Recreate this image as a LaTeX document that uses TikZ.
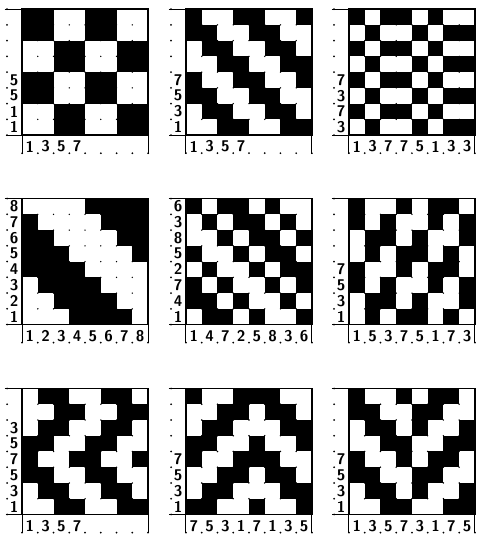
\documentclass[tikz,border=0pt]{standalone}
\usepackage{tikz}

% Một hình dệt: #1 tên, #2 x, #3 y, #4 các hàng ô, #5 nhãn dưới, #6 nhãn trái
\newcommand{\hinhdet}[6]{%
  \begin{scope}[shift={(#2,#3)}]
    % Chấm lưới
    \foreach \i in {1,...,7}
      \foreach \j in {1,...,7}
        \fill (\i,\j) circle (0.7pt);
    % Ô đen
    \foreach \row [count=\r] in {#4}
      \foreach \v [count=\c] in \row
        {\ifnum\v=1 \fill (\c-1,8-\r) rectangle ++(1,1);\fi}
    % Khung và các đường kẻ
    \draw[vien] (0,0) rectangle (8,8);
    \draw[ke] (-1.1,8) -- (0,8);
    \draw[ke] (-1.05,0) -- (0,0);
    \draw[ke] (0,0) -- (0,-1.2);
    \draw[ke] (8,0) -- (8,-1.2);
    % Chấm ở hàng và cột nhãn
    \foreach \k in {0,...,8} {
      \fill (\k,-1.15) circle (0.9pt);
      \fill (-0.95,\k) circle (0.9pt);
    }
    % Nhãn dưới
    \foreach \t [count=\c] in {#5}
      \node[so] (#1d\c) at (\c-0.5,-0.72) {\t};
    % Nhãn trái
    \foreach \t [count=\r] in {#6}
      \node[so] (#1t\r) at (-0.5,8.5-\r) {\t};
  \end{scope}}

\begin{document}
\begin{tikzpicture}[x=0.5cm, y=0.5cm,
    vien/.style={line width=1.3pt},
    ke/.style={line width=0.9pt},
    so/.style={font=\sffamily\bfseries\fontsize{14}{14}\selectfont, inner sep=0pt}]
    \useasboundingbox (0,0) rectangle (30.35,34.29);

    % Hàng trên
    \hinhdet{a}{1.40}{25.71}
      {{1,1,0,0,1,1,0,0},{1,1,0,0,1,1,0,0},{0,0,1,1,0,0,1,1},{0,0,1,1,0,0,1,1},
       {1,1,0,0,1,1,0,0},{1,1,0,0,1,1,0,0},{0,0,1,1,0,0,1,1},{0,0,1,1,0,0,1,1}}
      {1,3,5,7,{},{},{},{}}{{},{},{},{},5,5,1,1}
    \hinhdet{b}{11.81}{25.71}
      {{1,0,0,1,1,0,0,1},{1,1,0,0,1,1,0,0},{0,1,1,0,0,1,1,0},{0,0,1,1,0,0,1,1},
       {1,0,0,1,1,0,0,1},{1,1,0,0,1,1,0,0},{0,1,1,0,0,1,1,0},{0,0,1,1,0,0,1,1}}
      {1,3,5,7,{},{},{},{}}{{},{},{},{},7,5,3,1}
    \hinhdet{c}{22.16}{25.71}
      {{1,0,1,1,0,1,0,0},{0,1,0,0,1,0,1,1},{1,0,1,1,0,1,0,0},{0,1,0,0,1,0,1,1},
       {1,0,1,1,0,1,0,0},{0,1,0,0,1,0,1,1},{1,0,1,1,0,1,0,0},{0,1,0,0,1,0,1,1}}
      {1,3,7,7,5,1,3,3}{{},{},{},{},7,3,7,3}

    % Hàng giữa
    \hinhdet{d}{1.40}{13.68}
      {{0,0,0,0,1,1,1,1},{1,0,0,0,0,1,1,1},{1,1,0,0,0,0,1,1},{1,1,1,0,0,0,0,1},
       {1,1,1,1,0,0,0,0},{0,1,1,1,1,0,0,0},{0,0,1,1,1,1,0,0},{0,0,0,1,1,1,1,0}}
      {1,2,3,4,5,6,7,8}{8,7,6,5,4,3,2,1}
    \hinhdet{e}{11.81}{13.68}
      {{1,0,1,1,0,1,0,0},{0,1,0,1,1,0,1,0},{0,0,1,0,1,1,0,1},{1,0,0,1,0,1,1,0},
       {0,1,0,0,1,0,1,1},{1,0,1,0,0,1,0,1},{1,1,0,1,0,0,1,0},{0,1,1,0,1,0,0,1}}
      {1,4,7,2,5,8,3,6}{6,3,8,5,2,7,4,1}
    \hinhdet{f}{22.16}{13.68}
      {{1,0,0,1,0,1,1,0},{1,0,1,0,0,1,0,1},{0,1,1,0,1,0,0,1},{0,1,0,1,1,0,1,0},
       {1,0,0,1,0,1,1,0},{1,0,1,0,0,1,0,1},{0,1,1,0,1,0,0,1},{0,1,0,1,1,0,1,0}}
      {1,5,3,7,5,1,7,3}{{},{},{},{},7,5,3,1}

    % Hàng dưới
    \hinhdet{g}{1.40}{1.62}
      {{0,1,1,0,0,1,1,0},{0,0,1,1,0,0,1,1},{0,1,1,0,0,1,1,0},{1,1,0,0,1,1,0,0},
       {1,0,0,1,1,0,0,1},{1,1,0,0,1,1,0,0},{0,1,1,0,0,1,1,0},{0,0,1,1,0,0,1,1}}
      {1,3,5,7,{},{},{},{}}{{},{},3,5,7,5,3,1}
    \hinhdet{h}{11.81}{1.62}
      {{1,0,0,1,1,1,0,0},{0,0,1,1,0,1,1,0},{0,1,1,0,0,0,1,1},{1,1,0,0,1,0,0,1},
       {1,0,0,1,1,1,0,0},{0,0,1,1,0,1,1,0},{0,1,1,0,0,0,1,1},{1,1,0,0,1,0,0,1}}
      {7,5,3,1,7,1,3,5}{{},{},{},{},7,5,3,1}
    \hinhdet{i}{22.16}{1.62}
      {{1,0,0,1,0,1,1,0},{1,1,0,0,1,1,0,0},{0,1,1,0,1,0,0,1},{0,0,1,1,0,0,1,1},
       {1,0,0,1,0,1,1,0},{1,1,0,0,1,1,0,0},{0,1,1,0,1,0,0,1},{0,0,1,1,0,0,1,1}}
      {1,3,5,7,3,1,7,5}{{},{},{},{},7,5,3,1}
\end{tikzpicture}
\end{document}
